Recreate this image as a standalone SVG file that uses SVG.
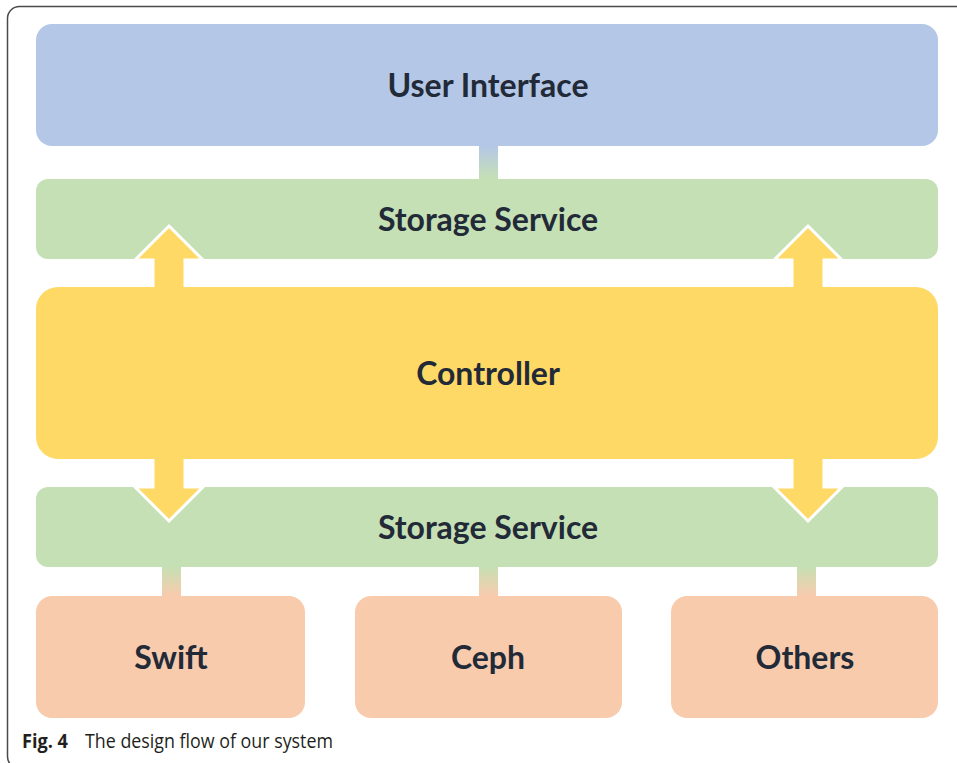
<svg xmlns="http://www.w3.org/2000/svg" width="957" height="763" viewBox="0 0 957 763">
  <defs>
    <linearGradient id="gradBlueGreen" x1="0" y1="0" x2="0" y2="1">
      <stop offset="0" stop-color="#b4c7e7"/>
      <stop offset="1" stop-color="#c5e0b4"/>
    </linearGradient>
    <linearGradient id="gradGreenOrange" x1="0" y1="0" x2="0" y2="1">
      <stop offset="0" stop-color="#c5e0b4"/>
      <stop offset="1" stop-color="#f8cbad"/>
    </linearGradient>
  </defs>
  <style>
    .label { font-family: Lato, "Liberation Sans", sans-serif; font-weight: 700; font-size: 32px; fill: #222a38; text-anchor: middle; }
    .ui { fill: #b4c7e7; }
    .svc { fill: #c5e0b4; }
    .ctl { fill: #ffd966; }
    .store { fill: #f8cbad; }
    .arrow { fill: #ffd966; stroke: #ffffff; stroke-width: 3; stroke-linejoin: miter; }
    .caption { font-family: "Open Sans", "Liberation Sans", sans-serif; font-size: 20px; fill: #231f20; }
  </style>

  <rect width="957" height="763" fill="#ffffff"/>
  <!-- figure frame -->
  <rect x="7.5" y="6.5" width="980" height="762" rx="12" fill="none" stroke="#4a4a4a" stroke-width="1.5"/>

  <!-- connectors: short gradient links between layers -->
  <g id="connectors">
    <rect x="479" y="146" width="19" height="33" fill="url(#gradBlueGreen)"/>
    <rect x="162" y="566" width="19" height="30" fill="url(#gradGreenOrange)"/>
    <rect x="479" y="566" width="19" height="30" fill="url(#gradGreenOrange)"/>
    <rect x="797" y="566" width="19" height="30" fill="url(#gradGreenOrange)"/>
  </g>

  <g id="user-interface">
    <rect class="ui" x="36" y="24" width="902" height="122" rx="16"/>
    <text class="label" x="488" y="97">User Interface</text>
  </g>

  <g id="storage-service-top">
    <rect class="svc" x="36" y="179" width="902" height="80" rx="12"/>
    <text class="label" x="488" y="231">Storage Service</text>
  </g>

  <g id="storage-service-bottom">
    <rect class="svc" x="36" y="487" width="902" height="80" rx="12"/>
    <text class="label" x="488" y="539">Storage Service</text>
  </g>

  <!-- two-way arrows between the controller and the storage services -->
  <g id="arrows">
    <polygon class="arrow" points="169,226 203,260 185,260 185,290 153,290 153,260 135,260"/>
    <polygon class="arrow" points="808,226 842,260 824,260 824,290 792,290 792,260 774,260"/>
    <polygon class="arrow" points="169,521 203,487 185,487 185,456 153,456 153,487 135,487"/>
    <polygon class="arrow" points="808,521 842,487 824,487 824,456 792,456 792,487 774,487"/>
  </g>

  <g id="controller">
    <rect class="ctl" x="36" y="287" width="902" height="172" rx="22"/>
    <text class="label" x="488" y="385">Controller</text>
  </g>

  <g id="swift">
    <rect class="store" x="36" y="596" width="269" height="122" rx="16"/>
    <text class="label" x="171" y="669">Swift</text>
  </g>

  <g id="ceph">
    <rect class="store" x="355" y="596" width="267" height="122" rx="16"/>
    <text class="label" x="488" y="669">Ceph</text>
  </g>

  <g id="others">
    <rect class="store" x="671" y="596" width="267" height="122" rx="16"/>
    <text class="label" x="805" y="669">Others</text>
  </g>

  <text class="caption" x="22" y="748"><tspan font-weight="700" textLength="46" lengthAdjust="spacingAndGlyphs">Fig. 4</tspan><tspan x="85" textLength="248" lengthAdjust="spacingAndGlyphs">The design flow of our system</tspan></text>
</svg>
